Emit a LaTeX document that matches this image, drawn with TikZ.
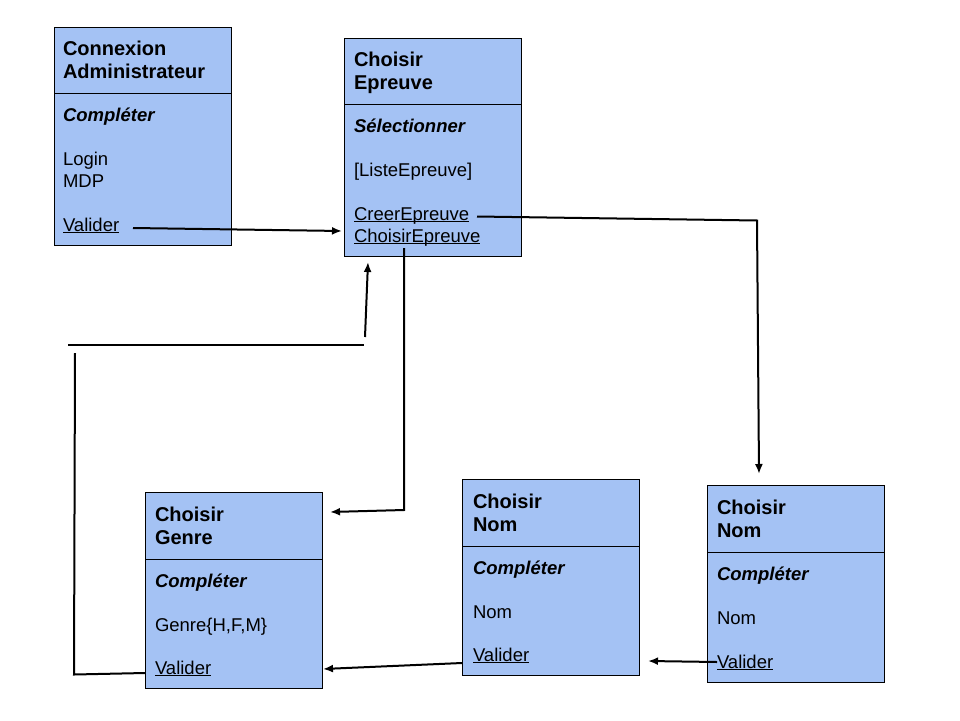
\documentclass[tikz,border=0pt]{standalone}
\usepackage{fontspec}
\setmainfont{Liberation Sans}
\usetikzlibrary{arrows.meta}
\definecolor{boxblue}{HTML}{A4C2F4}
\newcommand{\uln}[1]{\setbox0\hbox{#1}\rlap{\rule[-2.2pt]{\wd0}{0.9pt}}\box0}
\tikzset{
  umlbox/.style={draw=black, line width=1pt, fill=boxblue, anchor=north west, minimum width=177pt, inner sep=0pt, outer sep=0pt},
  txt/.style={anchor=base west, inner sep=0pt, outer sep=0pt, font=\fontsize{18.5}{22}\selectfont},
  ttl/.style={txt, font=\fontsize{20}{22}\selectfont\bfseries},
  sub/.style={txt, font=\fontsize{18.5}{22}\selectfont\bfseries\itshape},
  divider/.style={draw=black, line width=1pt},
  conn/.style={draw=black, line width=2pt},
  arr/.style={conn, -{Latex[length=10pt,width=8pt]}}
}
\begin{document}
\begin{tikzpicture}[x=1pt, y=-1pt]
\useasboundingbox (0,0) rectangle (960,720);

% Box 1: Connexion Administrateur
\node[umlbox, minimum height=218pt] (b1) at (54,27) {};
\draw[divider] (b1.west |- 0,93) -- (b1.east |- 0,93);
\node[ttl] (b1a) at (63,55) {Connexion};
\node[ttl] (b1b) at (63,78) {Administrateur};
\node[sub] (b1c) at (63,121) {Compléter};
\node[txt] (b1d) at (63,165) {Login};
\node[txt] (b1e) at (63,187) {MDP};
\node[txt] (b1v) at (63,231) {\uln{Valider}};

% Box 2: Choisir Epreuve
\node[umlbox, minimum height=218pt] (b2) at (344,38) {};
\draw[divider] (b2.west |- 0,104) -- (b2.east |- 0,104);
\node[ttl] (b2a) at (354,66) {Choisir};
\node[ttl] (b2b) at (354,89) {Epreuve};
\node[sub] (b2c) at (354,132) {Sélectionner};
\node[txt] (b2d) at (354,176) {[ListeEpreuve]};
\node[txt] (b2e) at (354,220) {\uln{CreerEpreuve}};
\node[txt] (b2f) at (354,242) {\uln{ChoisirEpreuve}};

% Box 3: Choisir Genre
\node[umlbox, minimum height=196pt] (b3) at (145,492) {};
\draw[divider] (b3.west |- 0,559) -- (b3.east |- 0,559);
\node[ttl] (b3a) at (155,521) {Choisir};
\node[ttl] (b3b) at (155,544) {Genre};
\node[sub] (b3c) at (155,587) {Compléter};
\node[txt] (b3d) at (155,631) {Genre\{H,F,M\}};
\node[txt] (b3v) at (155,674) {\uln{Valider}};

% Box 4: Choisir Nom (middle)
\node[umlbox, minimum height=196pt] (b4) at (462,479) {};
\draw[divider] (b4.west |- 0,546) -- (b4.east |- 0,546);
\node[ttl] (b4a) at (473,508) {Choisir};
\node[ttl] (b4b) at (473,531) {Nom};
\node[sub] (b4c) at (473,574) {Compléter};
\node[txt] (b4d) at (473,618) {Nom};
\node[txt] (b4v) at (473,661) {\uln{Valider}};

% Box 5: Choisir Nom (right)
\node[umlbox, minimum height=197pt] (b5) at (707,485) {};
\draw[divider] (b5.west |- 0,552) -- (b5.east |- 0,552);
\node[ttl] (b5a) at (717,514) {Choisir};
\node[ttl] (b5b) at (717,537) {Nom};
\node[sub] (b5c) at (717,580) {Compléter};
\node[txt] (b5d) at (717,624) {Nom};
\node[txt] (b5v) at (717,668) {\uln{Valider}};

% connector coordinates
\coordinate (a1s) at (133,228);
\coordinate (a1e) at (342,231);
\coordinate (a2s) at (477,216.5);
\coordinate (a2m) at (757,220.5);
\coordinate (a2e) at (759,474);
\coordinate (a3s) at (404,248);
\coordinate (a3m) at (404,510);
\coordinate (a3e) at (330,512);
\coordinate (a4s) at (717,662);
\coordinate (a4e) at (648,661);
\coordinate (a5s) at (462,663);
\coordinate (a5e) at (323,669);
\coordinate (l1s) at (145,673);
\coordinate (l1m) at (74,674.5);
\coordinate (l1e) at (75,353);
\coordinate (l2s) at (68,345);
\coordinate (l2e) at (364,345);
\coordinate (a6s) at (365,337);
\coordinate (a6e) at (368,262);

% connectors
\draw[arr] (a1s) -- (a1e);
\draw[arr] (a2s) -- (a2m) -- (a2e);
\draw[arr] (a3s) -- (a3m) -- (a3e);
\draw[arr] (a4s) -- (a4e);
\draw[arr] (a5s) -- (a5e);
\draw[conn] (l1s) -- (l1m) -- (l1e);
\draw[conn] (l2s) -- (l2e);
\draw[arr] (a6s) -- (a6e);
\end{tikzpicture}
\end{document}
